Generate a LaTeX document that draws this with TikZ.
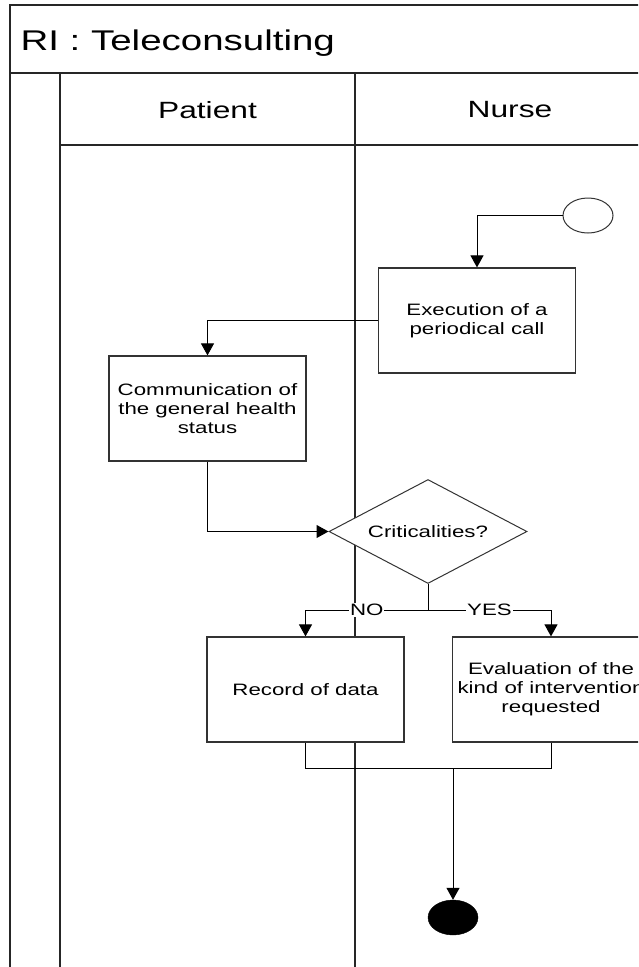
\documentclass[tikz,border=0pt]{standalone}
\usepackage{fontspec}
\setmainfont{Liberation Sans}[FakeStretch=1.35]
\usetikzlibrary{arrows.meta,shapes.geometric}

\begin{document}
\begin{tikzpicture}[x=1pt,y=-1pt,
  lane/.style={draw=black!85, line width=1.5pt},
  stepbox/.style={draw=black!80, fill=white, line width=1.2pt, rectangle,
    minimum width=197pt, minimum height=105pt, inner sep=0pt, align=center,
    font=\fontsize{16.5}{19}\selectfont},
  decision/.style={draw=black!80, fill=white, line width=1pt, diamond,
    aspect=1.9, minimum width=198pt, minimum height=104pt, inner sep=0pt,
    font=\fontsize{16.5}{19}\selectfont},
  startnode/.style={draw=black!80, fill=white, line width=1pt, ellipse,
    minimum width=50pt, minimum height=35pt, inner sep=0pt},
  endnode/.style={draw=black, fill=black, ellipse,
    minimum width=50pt, minimum height=35pt, inner sep=0pt},
  flow/.style={draw=black, line width=1pt, -{Triangle[width=13pt,length=12pt]}},
  link/.style={draw=black, line width=1pt},
  guard/.style={fill=white, inner sep=1pt, font=\fontsize{16.5}{19}\selectfont},
  lanetitle/.style={font=\fontsize{23.5}{27}\selectfont},
]
\useasboundingbox (0,0) rectangle (638,967);
\fill[white] (0,0) rectangle (638,967);
\clip (0,0) rectangle (638,967);

% pool frame and lanes
\draw[lane] (10,967) -- (10,5) -- (645,5);
\draw[lane] (10,73) -- (645,73);
\draw[lane] (60,73) -- (60,967);
\draw[lane] (355,73) -- (355,967);
\draw[lane] (60,145) -- (645,145);

\node[anchor=base west, font=\fontsize{28.5}{32}\selectfont] (pool) at (17,50) {RI : Teleconsulting};
\node[lanetitle] (patient) at (207.5,110) {Patient};
\node[lanetitle] (nurse) at (510,110) {Nurse};

% activities
\node[startnode] (start) at (588,215.5) {};
\node[stepbox] (exec) at (477,320.5) {Execution of a\\periodical call};
\node[stepbox] (comm) at (207.5,408.5) {Communication of\\the general health\\status};
\node[decision] (crit) at (428,531.5) {\makebox[0pt]{Criticalities?}};
\node[stepbox] (rec) at (305.5,689.5) {Record of data};
\node[stepbox] (eval) at (551,689.5) {Evaluation of the\\kind of intervention\\requested};
\node[endnode] (stop) at (453,917.5) {};

\coordinate (split) at (428,610);
\coordinate (join) at (453,768);

% connectors
\draw[flow] (start.west) -| (exec.north);
\draw[flow] (exec.west) -| (comm.north);
\draw[flow] (comm.south) |- (crit.west);
\draw[link] (crit.south) -- (split);
\draw[flow] (split) -| node[guard, pos=0.25] {NO} (rec.north);
\draw[flow] (split) -| node[guard, pos=0.25] {YES} (eval.north);
\draw[link] (rec.south) |- (join) -| (eval.south);
\draw[flow] (join) -- (stop.north);
\end{tikzpicture}
\end{document}
